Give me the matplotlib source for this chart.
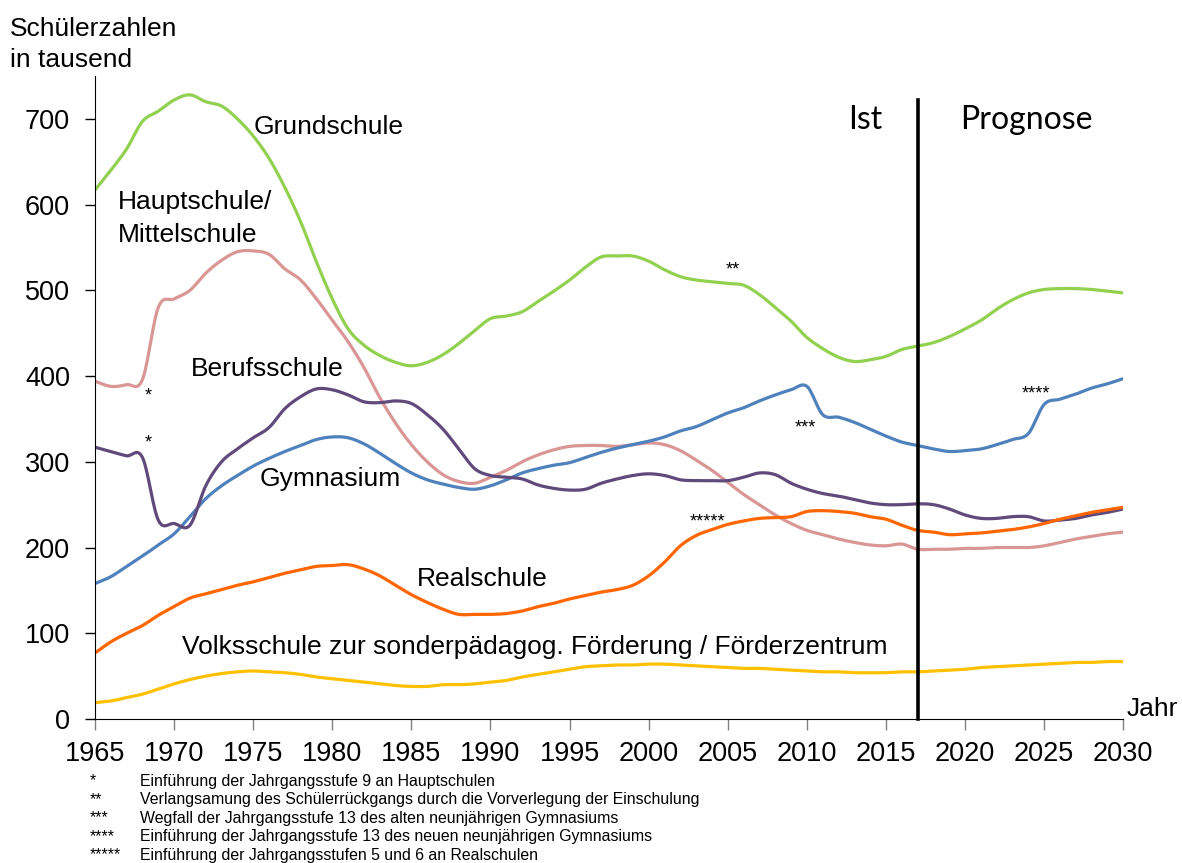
import numpy as np
import matplotlib
matplotlib.use('Agg')
import matplotlib.pyplot as plt

plt.rcParams['font.family'] = ['Liberation Sans', 'DejaVu Sans']

years = np.arange(1965, 2031)

grundschule = [617, 640, 665, 697, 709, 722, 728, 720, 715, 700,
               680, 654, 620, 580, 533, 490, 455, 436, 424, 416,
               412, 416, 425, 438, 453, 467, 470, 475, 487, 499,
               512, 527, 539, 540, 540, 534, 524, 516, 512, 510,
               508, 506, 495, 480, 464, 445, 432, 422, 417, 419,
               423, 431, 435, 439, 446, 455, 465, 478, 489, 497,
               501, 502, 502, 501, 499, 497]
hauptschule = [394, 388, 390, 396, 480, 490, 500, 520, 535, 545,
               546, 542, 525, 512, 490, 465, 440, 410, 375, 345,
               320, 300, 285, 277, 275, 282, 290, 300, 308, 314,
               318, 319, 319, 318, 320, 322, 320, 313, 302, 290,
               276, 262, 250, 238, 228, 220, 215, 210, 206, 203,
               202, 204, 198, 198, 198, 199, 199, 200, 200, 200,
               202, 206, 210, 213, 216, 218]
berufsschule = [317, 312, 307, 305, 232, 228, 226, 272, 300, 315,
                328, 340, 362, 376, 385, 384, 378, 370, 369, 371,
                368, 355, 338, 315, 292, 284, 282, 280, 273, 269,
                267, 268, 275, 280, 284, 286, 284, 279, 278, 278,
                278, 282, 287, 285, 275, 268, 263, 260, 256, 252,
                250, 250, 251, 250, 245, 238, 234, 234, 236, 236,
                231, 232, 234, 238, 241, 245]
gymnasium = [158, 166, 178, 190, 203, 216, 236, 257, 272, 284,
             295, 304, 312, 319, 326, 329, 328, 321, 310, 298,
             287, 279, 274, 270, 268, 272, 279, 287, 292, 296,
             299, 305, 311, 316, 320, 324, 329, 336, 341, 349,
             357, 363, 371, 378, 384, 388, 355, 352, 346, 338,
             330, 323, 319, 315, 312, 313, 315, 320, 326, 333,
             367, 373, 379, 386, 391, 397]
realschule = [77, 90, 100, 109, 121, 131, 141, 146, 151, 156,
              160, 165, 170, 174, 178, 179, 180, 175, 167, 156,
              145, 136, 128, 122, 122, 122, 123, 126, 131, 135,
              140, 144, 148, 151, 156, 167, 183, 202, 214, 221,
              227, 231, 234, 235, 236, 242, 243, 242, 240, 236,
              233, 226, 220, 218, 215, 216, 217, 219, 221, 224,
              228, 233, 237, 241, 244, 247]
volksschule = [19, 21, 25, 29, 35, 41, 46, 50, 53, 55,
               56, 55, 54, 52, 49, 47, 45, 43, 41, 39,
               38, 38, 40, 40, 41, 43, 45, 49, 52, 55,
               58, 61, 62, 63, 63, 64, 64, 63, 62, 61,
               60, 59, 59, 58, 57, 56, 55, 55, 54, 54,
               54, 55, 55, 56, 57, 58, 60, 61, 62, 63,
               64, 65, 66, 66, 67, 67]

series = [
    (grundschule, '#92D050'),
    (hauptschule, '#D99694'),
    (gymnasium, '#4F81BD'),
    (berufsschule, '#604A7B'),
    (realschule, '#FF6600'),
    (volksschule, '#FFC000'),
]

labels = [
    ('Grundschule', 1975.0, 691),
    ('Hauptschule/', 1966.45, 603),
    ('Mittelschule', 1966.45, 565),
    ('Berufsschule', 1971.07, 408),
    ('Gymnasium', 1975.43, 280),
    ('Realschule', 1985.35, 163),
    ('Volksschule zur sonderpädagog. Förderung / Förderzentrum', 1970.5, 84),
]

stars = [
    ('*', 1968.35, 377),
    ('*', 1968.35, 322),
    ('**', 2005.3, 524),
    ('***', 2009.9, 340),
    ('****', 2024.5, 379),
    ('*****', 2003.7, 230),
]

footnotes = [
    ('*', 'Einführung der Jahrgangsstufe 9 an Hauptschulen'),
    ('**', 'Verlangsamung des Schülerrückgangs durch die Vorverlegung der Einschulung'),
    ('***', 'Wegfall der Jahrgangsstufe 13 des alten neunjährigen Gymnasiums'),
    ('****', 'Einführung der Jahrgangsstufe 13 des neuen neunjährigen Gymnasiums'),
    ('*****', 'Einführung der Jahrgangsstufen 5 und 6 an Realschulen'),
]

split_year = 2017


def smooth(x, y, n=16):
    # catmull-rom through the yearly values, close to excel's smoothed lines
    x = np.asarray(x, float)
    y = np.asarray(y, float)
    yp = np.concatenate([[2 * y[0] - y[1]], y, [2 * y[-1] - y[-2]]])
    t = np.linspace(0, 1, n, endpoint=False)
    xs, ys = [], []
    for i in range(len(x) - 1):
        p0, p1, p2, p3 = yp[i], yp[i + 1], yp[i + 2], yp[i + 3]
        ys.append(0.5 * (2 * p1 + (-p0 + p2) * t
                         + (2 * p0 - 5 * p1 + 4 * p2 - p3) * t ** 2
                         + (-p0 + 3 * p1 - 3 * p2 + p3) * t ** 3))
        xs.append(x[i] + (x[i + 1] - x[i]) * t)
    xs.append([x[-1]])
    ys.append([y[-1]])
    return np.concatenate(xs), np.concatenate(ys)


fig = plt.figure(figsize=(11.82, 8.63), dpi=100)
ax = fig.add_axes([95 / 1182, 1 - 719 / 863, (1123.3 - 95) / 1182, (719 - 76) / 863])

for values, color in series:
    sx, sy = smooth(years, values)
    ax.plot(sx, sy, color=color, lw=2.3, solid_capstyle='butt')

ax.plot([split_year, split_year], [0, 722], color='black', lw=2.6, clip_on=False)

ax.set_xlim(1965, 2030)
ax.set_ylim(0, 750)
ax.set_xticks(range(1965, 2031, 5))
ax.set_yticks(range(0, 701, 100))
ax.spines['top'].set_visible(False)
ax.spines['right'].set_visible(False)
ax.tick_params(axis='y', direction='out', length=7, width=1, labelsize=19.5, pad=11)
ax.tick_params(axis='x', direction='out', length=8, width=1, color='#808080',
               labelsize=19.5, pad=8)

for text, x, y in labels:
    ax.text(x, y, text, fontsize=19, ha='left', va='center')

for text, x, y in stars:
    ax.text(x, y, text, fontsize=13, ha='center', va='center')

ax.text(2012.6, 699, 'Ist', fontsize=23, family='Lato', ha='left', va='center')
ax.text(2019.7, 699, 'Prognose', fontsize=23, family='Lato', ha='left', va='center')
ax.text(2030.2, 4, 'Jahr', fontsize=19, ha='left', va='baseline', clip_on=False)

fig.text(10 / 1182, 1 - 17 / 863, 'Schülerzahlen\nin tausend', fontsize=19,
         ha='left', va='top', linespacing=1.38)

for i, (mark, note) in enumerate(footnotes):
    yy = 1 - (781 + i * 18.5) / 863
    fig.text(90 / 1182, yy, mark, fontsize=11.4, ha='left', va='center')
    fig.text(140 / 1182, yy, note, fontsize=11.4, ha='left', va='center')

fig.savefig('out.png', dpi=100)
